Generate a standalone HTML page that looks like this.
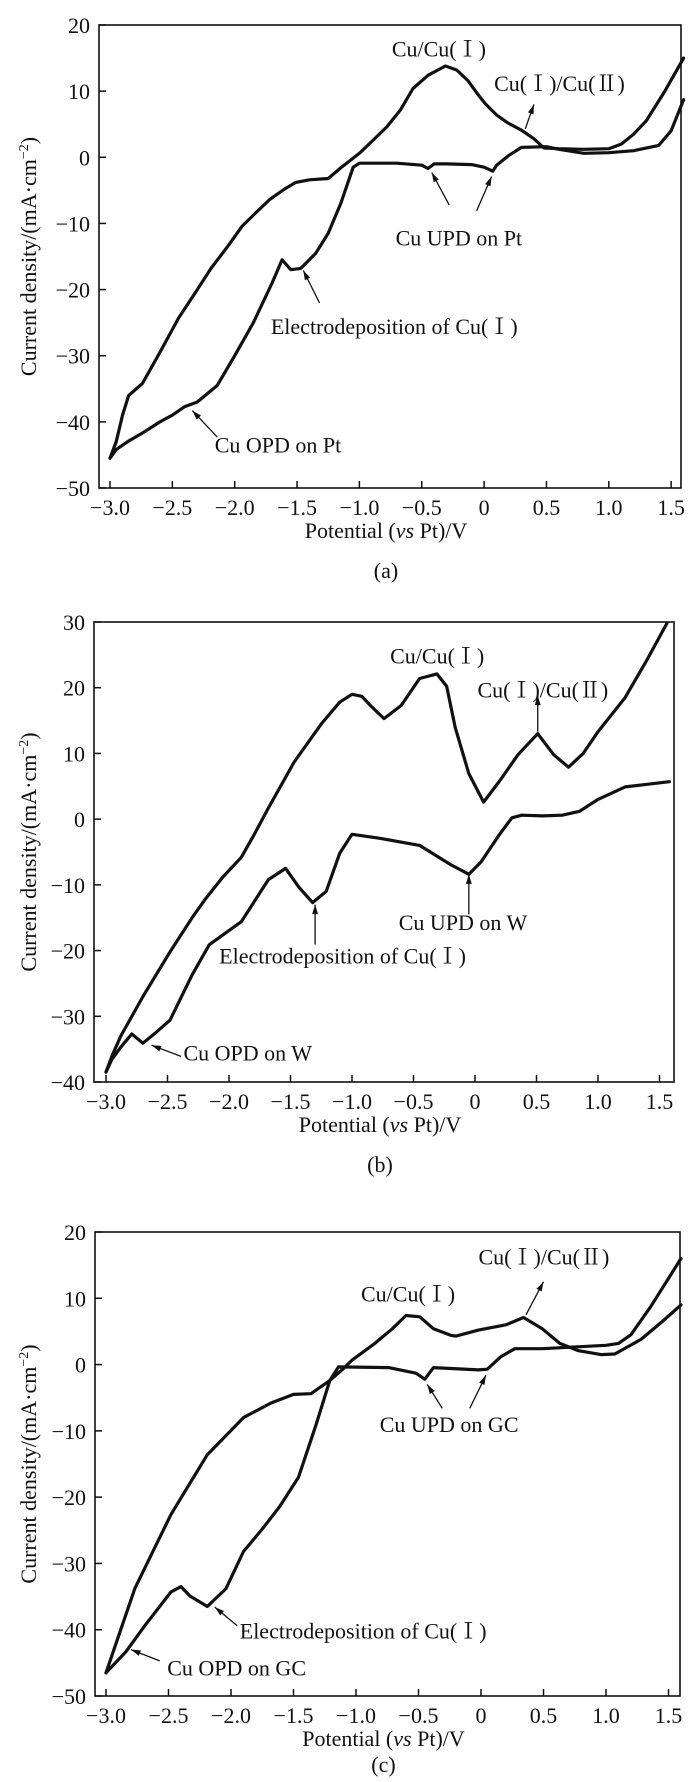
<!DOCTYPE html>
<html><head><meta charset="utf-8">
<style>
html,body{margin:0;padding:0;background:#fff;}
svg{display:block;}
text{font-family:"Liberation Serif","Noto Serif CJK SC",serif;fill:#111;}
</style></head>
<body>
<svg id="fig" width="700" height="1782" viewBox="0 0 700 1782" xmlns="http://www.w3.org/2000/svg"></svg>
<script>
// ---------- data ----------
const xTicks = [-3.0,-2.5,-2.0,-1.5,-1.0,-0.5,0,0.5,1.0,1.5];
const xTickLabels = ["\u22123.0","\u22122.5","\u22122.0","\u22121.5","\u22121.0","\u22120.5","0","0.5","1.0","1.5"];
const aYTicks = [20,10,0,-10,-20,-30,-40,-50];
const bYTicks = [30,20,10,0,-10,-20,-30,-40];
const cYTicks = [20,10,0,-10,-20,-30,-40,-50];

// Panel (a) Pt
const aUpX = [-3.0,-2.95,-2.9,-2.85,-2.74,-2.6,-2.45,-2.3,-2.19,-2.05,-1.94,-1.82,-1.72,-1.6,-1.51,-1.4,-1.25,-1.15,-1.0,-0.9,-0.78,-0.67,-0.57,-0.45,-0.31,-0.22,-0.13,-0.05,0.01,0.1,0.19,0.3,0.4,0.48,0.6,0.8,1.0,1.1,1.2,1.3,1.45,1.6];
const aUpY = [-45.5,-43,-39,-36,-34.2,-29.5,-24.3,-20,-16.8,-13.3,-10.4,-8.2,-6.4,-4.8,-3.8,-3.4,-3.2,-1.6,0.6,2.4,4.6,7.2,10.4,12.4,13.8,13.2,11.6,9.5,8.1,6.4,5.2,4.1,2.8,1.4,1.3,1.2,1.3,2.0,3.5,5.5,10,15];
const aDnX = [1.6,1.5,1.4,1.2,1.0,0.8,0.6,0.5,0.3,0.2,0.1,0.07,0.0,-0.1,-0.3,-0.4,-0.45,-0.5,-0.7,-1.0,-1.05,-1.15,-1.25,-1.35,-1.47,-1.55,-1.62,-1.7,-1.85,-2.0,-2.14,-2.3,-2.4,-2.5,-2.6,-2.75,-2.85,-2.95,-3.0];
const aDnY = [8.7,4,1.8,1.0,0.7,0.6,1.2,1.6,1.5,0.3,-1.2,-2.1,-1.5,-1.1,-1.0,-1.0,-1.7,-1.2,-0.9,-0.9,-1.5,-7,-11.5,-14.5,-16.8,-17,-15.5,-19,-25,-30,-34.5,-37,-37.7,-39,-40,-41.8,-42.9,-44.2,-45.5];

// Panel (b) W
const bUpX = [-3.0,-2.95,-2.88,-2.7,-2.48,-2.3,-2.19,-2.05,-1.9,-1.8,-1.68,-1.47,-1.25,-1.1,-1.0,-0.92,-0.85,-0.74,-0.6,-0.45,-0.31,-0.23,-0.16,-0.05,0.07,0.2,0.35,0.51,0.64,0.76,0.88,1.0,1.22,1.4,1.56];
const bUpY = [-38.5,-36,-33,-27,-20.2,-15,-12.1,-8.8,-5.8,-2.5,1.7,8.7,14.5,17.8,19,18.7,17.3,15.3,17.3,21.4,22.1,20.2,13.9,6.9,2.6,5.8,9.8,13,9.8,7.9,10,13.3,18.5,24.3,29.8];
const bDnX = [1.58,1.4,1.22,1.0,0.85,0.71,0.55,0.38,0.3,0.2,0.05,-0.05,-0.2,-0.45,-0.78,-1.0,-1.1,-1.21,-1.32,-1.43,-1.54,-1.68,-1.9,-2.16,-2.3,-2.48,-2.59,-2.7,-2.79,-2.88,-2.95,-3.0];
const bDnY = [5.7,5.3,4.9,3.0,1.2,0.6,0.5,0.6,0.2,-2.3,-6.5,-8.4,-6.9,-4.0,-2.9,-2.3,-5.2,-11,-12.7,-10.4,-7.5,-9.2,-15.6,-19.1,-23.7,-30.6,-32.4,-34.1,-32.7,-34.7,-36.5,-38.5];

// Panel (c) GC
const cUpX = [-3.0,-2.77,-2.48,-2.19,-1.9,-1.68,-1.5,-1.36,-1.21,-1.1,-1.03,-0.85,-0.71,-0.6,-0.49,-0.38,-0.24,-0.2,-0.02,0.2,0.34,0.49,0.63,0.78,0.96,1.07,1.28,1.45,1.6];
const cUpY = [-46.5,-33.8,-22.6,-13.6,-8,-5.8,-4.5,-4.4,-2.4,-0.6,0.7,3.2,5.4,7.4,7.2,5.4,4.4,4.3,5.2,6,7.1,5.4,3.2,2.1,1.5,1.6,3.8,6.5,9];
const cDnX = [1.6,1.36,1.2,1.1,1.0,0.49,0.27,0.16,0.05,-0.02,-0.38,-0.45,-0.52,-0.74,-1.14,-1.21,-1.32,-1.46,-1.61,-1.75,-1.9,-2.04,-2.19,-2.33,-2.4,-2.48,-2.69,-2.84,-3.0];
const cDnY = [16,8.8,4.5,3.2,2.9,2.4,2.4,1.2,-0.7,-0.8,-0.45,-2.2,-1.3,-0.45,-0.35,-2.4,-9.1,-17,-21.4,-24.8,-28.2,-33.8,-36.5,-34.9,-33.5,-34.3,-39.4,-43.3,-46.5];

// annotations
const aNotes = ["Cu/Cu(\u2160)","Cu(\u2160)/Cu(\u2161)","Cu UPD on Pt","Electrodeposition of Cu(\u2160)","Cu OPD on Pt"];
const aNoteX = [-0.74,0.08,-0.71,-1.71,-2.16];
const aNoteY = [15.2,10,-13.3,-26.7,-44.6];
const aArrX1 = [0.33,-0.28,-0.06,-1.32,-2.14];
const aArrY1 = [4.3,-7.2,-8.1,-22,-42.3];
const aArrX2 = [0.4,-0.42,0.06,-1.45,-2.34];
const aArrY2 = [8,-2.3,-2.9,-17.1,-38.3];

const bNotes = ["Cu/Cu(\u2160)","Cu(\u2160)/Cu(\u2161)","Cu UPD on W","Electrodeposition of Cu(\u2160)","Cu OPD on W"];
const bNoteX = [-0.69,0.02,-0.62,-2.08,-2.37];
const bNoteY = [23.7,18.5,-16.9,-22,-36.7];
const bArrX1 = [0.51,-0.05,-1.3,-2.39];
const bArrY1 = [13.3,-14.5,-19.1,-36.1];
const bArrX2 = [0.51,-0.05,-1.3,-2.63];
const bArrY2 = [18.8,-8.4,-13,-34.4];

const cNotes = ["Cu/Cu(\u2160)","Cu(\u2160)/Cu(\u2161)","Cu UPD on GC","Electrodeposition of Cu(\u2160)","Cu OPD on GC"];
const cNoteX = [-0.96,-0.02,-0.81,-1.93,-2.51];
const cNoteY = [9.5,15.1,-10.2,-41.3,-46.9];
const cArrX1 = [0.36,-0.31,-0.09,-1.95,-2.57];
const cArrY1 = [7.5,-6.6,-6.6,-39.4,-44.7];
const cArrX2 = [0.5,-0.43,0.04,-2.13,-2.8];
const cArrY2 = [12.5,-3,-1.6,-36.6,-43];

// ---------- drawing ----------
const NS = "http://www.w3.org/2000/svg";
const svg = document.getElementById("fig");
function mk(tag, attrs, parent){
  const e = document.createElementNS(NS, tag);
  for (const k in attrs) e.setAttribute(k, attrs[k]);
  (parent||svg).appendChild(e);
  return e;
}

function panel(cfg){
  const g = mk("g", {});
  
  
  const py = (cfg.B - cfg.T) / 70;
  const X = v => cfg.x0 + (v + 3) * cfg.px;
  const Y = v => cfg.T + (cfg.ymax - v) * py;
  const fr = mk("rect", {x:cfg.L, y:cfg.T, width:cfg.R-cfg.L, height:cfg.B-cfg.T, fill:"none", stroke:"#111", "stroke-width":1.6}, g);
  
  
  xTicks.forEach((t,i)=>{
    const tk = mk("line", {x1:X(t), x2:X(t), y1:cfg.B, y2:cfg.B-7, stroke:"#111", "stroke-width":1.5}, g);
    
    
    const tl = mk("text", {x:X(t), y:cfg.B+27, "text-anchor":"middle", "font-size":22}, g);
    tl.textContent = xTickLabels[i];
    
    
  });
  cfg.yTicks.forEach(t=>{
    const tk = mk("line", {x1:cfg.L, x2:cfg.L+7, y1:Y(t), y2:Y(t), stroke:"#111", "stroke-width":1.5}, g);
    
    
    const tl = mk("text", {x:cfg.L-9, y:Y(t)+8, "text-anchor":"end", "font-size":22}, g);
    tl.textContent = t < 0 ? "\u2212" + Math.abs(t) : String(t);
    
    
  });
  const xt = mk("text", {x:(cfg.L+cfg.R)/2 - 4, y:cfg.B+50, "text-anchor":"middle", "font-size":22}, g);
  xt.innerHTML = 'Potential (<tspan font-style="italic">vs</tspan> Pt)/V';
  
  
  const yc = (cfg.T+cfg.B)/2;
  const yt = mk("text", {x:0, y:0, "text-anchor":"middle", "font-size":22, transform:`translate(36,${yc}) rotate(-90)`}, g);
  yt.innerHTML = 'Current density/(mA\u00b7cm<tspan font-size="14" dy="-8">\u22122</tspan><tspan dy="8">)</tspan>';
  
  
  const cap = mk("text", {x:(cfg.L+cfg.R)/2 - 4, y:cfg.B+cfg.capOff, "text-anchor":"middle", "font-size":22}, g);
  cap.textContent = cfg.caption;
  
  
  const clip = "clip-" + cfg.name;
  const cp = mk("clipPath", {id:clip}, g);
  mk("rect", {x:cfg.L, y:cfg.T-14, width:cfg.R-cfg.L+4, height:cfg.B-cfg.T+14}, cp);
  [[cfg.upX,cfg.upY,'anodic-scan-curve'],[cfg.dnX,cfg.dnY,'cathodic-scan-curve']].forEach(s=>{
    const d = s[0].map((v,i)=>(i?"L":"M")+X(v).toFixed(1)+","+Y(s[1][i]).toFixed(1)).join(" ");
    const p = mk("path", {d:d, fill:"none", stroke:"#111", "stroke-width":3.2, "stroke-linejoin":"round", "stroke-linecap":"round", "clip-path":`url(#${clip})`}, g);
    
    
  });
  cfg.notes.forEach((n,i)=>{
    const t = mk("text", {x:X(cfg.noteX[i]), y:Y(cfg.noteY[i]), "font-size":22}, g);
    t.textContent = n;
    
    
  });
  cfg.arrX1.forEach((v,i)=>{
    const x1=X(v), y1=Y(cfg.arrY1[i]), x2=X(cfg.arrX2[i]), y2=Y(cfg.arrY2[i]);
    const a = mk("line", {x1:x1,y1:y1,x2:x2,y2:y2,stroke:"#111","stroke-width":1.3}, g);
    
    
    const ang = Math.atan2(y2-y1, x2-x1), L=10, w=0.3;
    const hp = `${x2},${y2} ${x2-L*Math.cos(ang-w)},${y2-L*Math.sin(ang-w)} ${x2-L*Math.cos(ang+w)},${y2-L*Math.sin(ang+w)}`;
    const h = mk("polygon", {points:hp, fill:"#111"}, g);
    
    
  });
}

panel({name:"panel-a-pt", caption:"(a)", capOff:90, L:99, R:681, T:25, B:488, x0:110, px:124.7, ymax:20, yTicks:aYTicks,
  upX:aUpX, upY:aUpY, dnX:aDnX, dnY:aDnY, notes:aNotes, noteX:aNoteX, noteY:aNoteY,
  arrX1:aArrX1, arrY1:aArrY1, arrX2:aArrX2, arrY2:aArrY2});
panel({name:"panel-b-w", caption:"(b)", capOff:90, L:94, R:674, T:622, B:1082, x0:106, px:123, ymax:30, yTicks:bYTicks,
  upX:bUpX, upY:bUpY, dnX:bDnX, dnY:bDnY, notes:bNotes, noteX:bNoteX, noteY:bNoteY,
  arrX1:bArrX1, arrY1:bArrY1, arrX2:bArrX2, arrY2:bArrY2});
panel({name:"panel-c-gc", caption:"(c)", capOff:76, L:95, R:680, T:1232, B:1696, x0:106, px:125, ymax:20, yTicks:cYTicks,
  upX:cUpX, upY:cUpY, dnX:cDnX, dnY:cDnY, notes:cNotes, noteX:cNoteX, noteY:cNoteY,
  arrX1:cArrX1, arrY1:cArrY1, arrX2:cArrX2, arrY2:cArrY2});
</script>
</body></html>
